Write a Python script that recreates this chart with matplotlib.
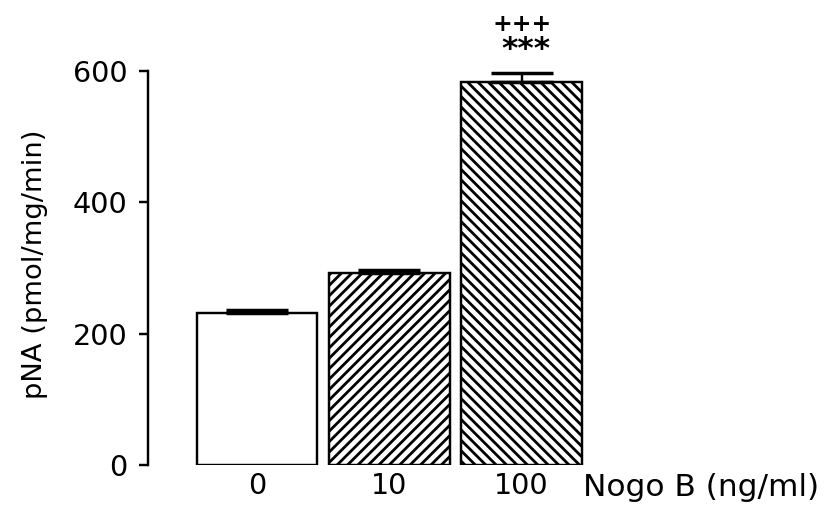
import matplotlib
matplotlib.use("Agg")
import matplotlib.pyplot as plt

# Data
doses = ["0", "10", "100"]
activity = [231, 292, 584]
sem = [5, 5, 13]
hatches = ["", "////", "\\\\\\\\"]
sig_vs_control = "***"
sig_vs_low = "+++"

plt.rcParams["font.family"] = ["DejaVu Sans"]
plt.rcParams["hatch.linewidth"] = 1.6
plt.rcParams["hatch.color"] = "black"

W, H = 830, 516
fig = plt.figure(figsize=(W / 125, H / 125), dpi=125)

left_px, right_px = 148, 601
top_px, bot_px = 71, 465
ax = fig.add_axes([left_px / W, 1 - bot_px / H,
                   (right_px - left_px) / W, (bot_px - top_px) / H])

x = list(range(len(doses)))
bars = ax.bar(x, activity, width=0.91, color="white", edgecolor="black",
              linewidth=1.4, zorder=2)
for b, h in zip(bars, hatches):
    b.set_hatch(h)

ax.errorbar(x, activity, yerr=[[0] * len(sem), sem], fmt="none",
            ecolor="black", elinewidth=1.4, capsize=18, capthick=2.0,
            zorder=3, clip_on=False)

top = activity[2] + sem[2]
ax.text(2.03, top + 36, sig_vs_control, ha="center", va="center",
        fontsize=18, fontweight="bold", clip_on=False)
ax.text(2.0, top + 74, sig_vs_low, ha="center", va="center",
        fontsize=13.5, fontweight="bold", clip_on=False)

ax.set_xlim(-0.825, 2.6)
ax.set_ylim(0, 600)
ax.set_yticks([0, 200, 400, 600])
ax.set_xticks(x)
ax.set_xticklabels(doses)

for s in ["top", "right", "bottom"]:
    ax.spines[s].set_visible(False)
ax.spines["left"].set_linewidth(1.4)

ax.tick_params(axis="y", length=5, width=1.4, pad=7, labelsize=16.5)
ax.tick_params(axis="x", length=0, pad=4, labelsize=16.5)

ax.set_xlabel("Nogo B (ng/ml)", fontsize=18)
ax.xaxis.label.set_ha("left")
ax.xaxis.label.set_va("center")
ax.xaxis.set_label_coords((583 - left_px) / (right_px - left_px),
                          (bot_px - 488) / (bot_px - top_px))

fig.text(35 / W, 1 - 264 / H, "pNA (pmol/mg/min)", rotation=90,
         ha="center", va="center", fontsize=15.8)

fig.savefig("out.png", dpi=125, facecolor="white")
